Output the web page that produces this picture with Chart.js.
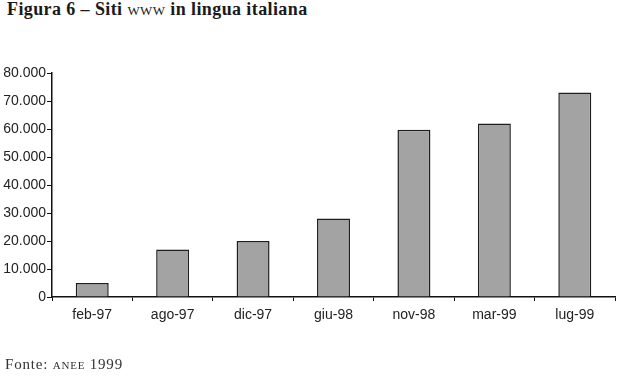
<!DOCTYPE html>
<html>
<head>
<meta charset="utf-8">
<script src="https://cdn.jsdelivr.net/npm/chart.js@4"></script>
<style>
  html, body { margin: 0; padding: 0; background: #fff; }
  body { width: 623px; height: 381px; position: relative; overflow: hidden; }
  #title {
    position: absolute; left: 7px; top: -1px;
    font-family: "Liberation Serif", "DejaVu Serif", serif;
    font-weight: bold; font-size: 18px; letter-spacing: 0.4px; color: #1a1a1a; white-space: nowrap;
  }
  #source {
    position: absolute; left: 5px; top: 356px;
    font-family: "Liberation Serif", "DejaVu Serif", serif;
    font-size: 15px; letter-spacing: 0.8px; color: #333; white-space: nowrap;
  }
  .sc { font-variant: small-caps; font-weight: normal; }
  #wrap { position: absolute; left: 0; top: 0; width: 623px; height: 381px; }
</style>
</head>
<body>
<div id="title">Figura 6 – Siti <span class="sc">www</span> in lingua italiana</div>
<div id="wrap"><canvas id="chart"></canvas></div>
<div id="source">Fonte: <span class="sc">anee</span> 1999</div>
<script>
const categories = ['feb-97', 'ago-97', 'dic-97', 'giu-98', 'nov-98', 'mar-99', 'lug-99'];
const siti = [5000, 17000, 20000, 28000, 59700, 62000, 73000];
const yTicks = [0, 10000, 20000, 30000, 40000, 50000, 60000, 70000, 80000];

const fmt = v => String(v).replace(/\B(?=(\d{3})+(?!\d))/g, '.');

new Chart(document.getElementById('chart'), {
    type: 'bar',
    data: {
        labels: categories,
        datasets: [{
            label: 'Siti WWW',
            data: siti,
            backgroundColor: '#a3a3a3',
            borderColor: '#1e1e1e',
            borderWidth: 1.5,
            barPercentage: 0.41,
            categoryPercentage: 1
        }]
    },
    options: {
        responsive: true,
        maintainAspectRatio: false,
        animation: false,
        layout: { padding: { top: 73, left: 0, right: 8, bottom: 54 } },
        plugins: {
            legend: { display: false },
            tooltip: { enabled: false }
        },
        scales: {
            x: {
                grid: { drawOnChartArea: false, color: '#111', tickLength: 4, offset: true },
                border: { color: '#111', width: 1.5 },
                ticks: {
                    color: '#222',
                    padding: 6,
                    maxRotation: 0,
                    font: { family: 'Liberation Sans, Arial, sans-serif', size: 14 }
                },
                afterFit: scale => { scale.height = 30; }
            },
            y: {
                min: 0,
                max: 80000,
                afterBuildTicks: scale => { scale.ticks = yTicks.map(v => ({ value: v })); },
                grid: { drawOnChartArea: false, color: '#111', tickLength: 5 },
                border: { color: '#111', width: 1.5 },
                ticks: {
                    color: '#222',
                    padding: 1,
                    callback: v => fmt(v),
                    font: { family: 'Liberation Sans, Arial, sans-serif', size: 14 }
                },
                afterFit: scale => { scale.width = 52; }
            }
        }
    }
});
</script>
</body>
</html>
